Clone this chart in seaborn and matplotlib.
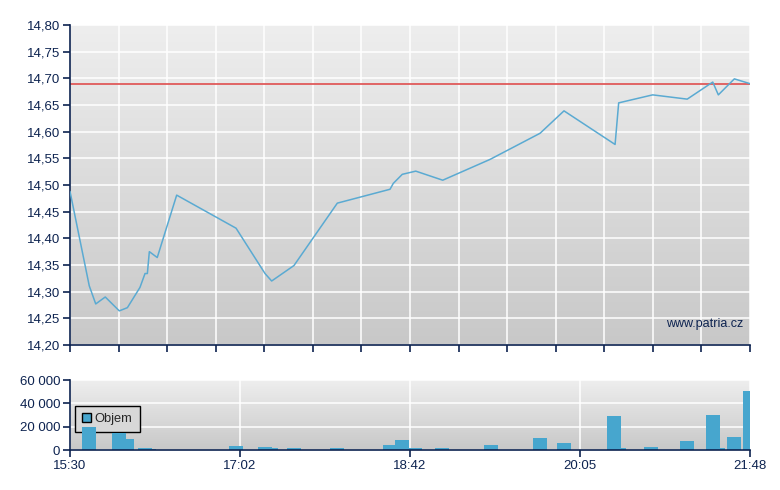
import numpy as np
import pandas as pd
import seaborn as sns
import matplotlib.pyplot as plt
from matplotlib.patches import Patch

# price line: minutes after 15:30 and price
price_t = [0, 10.7, 14.3, 19.6, 27.4, 31.9, 38.9, 41.7, 43.0, 44.1, 48.5, 59.3,
           92.3, 108.4, 112.1, 124.5, 148.6, 177.9, 179.7, 184.7, 192.2, 207.2,
           233.5, 261.3, 274.6, 303.0, 305.0, 323.9, 343.1, 357.3, 360.4, 369.3, 378]
price = [14.488, 14.311, 14.277, 14.290, 14.264, 14.270, 14.308, 14.334, 14.334,
         14.375, 14.364, 14.481, 14.419, 14.334, 14.320, 14.349, 14.466, 14.492,
         14.503, 14.520, 14.526, 14.509, 14.548, 14.597, 14.639, 14.576, 14.654,
         14.669, 14.661, 14.693, 14.669, 14.699, 14.690]
prev_close = 14.69

# volume bars: left edge (minutes), width (minutes), volume
vol_t = [6.7, 23.3, 31.1, 37.8, 45.6, 88.4, 104.5, 112.3, 120.6, 144.5, 174.0,
         180.7, 188.4, 202.9, 230.1, 257.4, 270.7, 298.5, 306.3, 319.1, 339.1,
         353.5, 361.3, 365.2, 374.1]
vol_w = [7.8, 7.8, 4.4, 7.8, 2.2, 7.8, 7.8, 3.3, 7.8, 7.8, 6.7, 7.8, 7.3, 7.8,
         7.8, 7.8, 7.8, 7.8, 2.8, 7.8, 7.8, 7.8, 2.8, 7.8, 3.9]
volume = [20000, 14400, 9500, 1700, 900, 3500, 2600, 1700, 1700, 1700, 4300,
          8700, 1700, 1700, 4300, 10400, 6100, 29400, 1700, 2600, 7800, 30300,
          1700, 11300, 50200]

x_labels = ["15:30", "17:02", "18:42", "20:05", "21:48"]

sns.set_style("white")
plt.rcParams['font.family'] = ['Liberation Sans', 'DejaVu Sans']

navy = "#0d2350"
fig = plt.figure(figsize=(7.8, 4.9), dpi=100)
ax1 = fig.add_axes([70 / 780, 1 - 345 / 490, 680 / 780, 320 / 490])
ax2 = fig.add_axes([70 / 780, 1 - 450 / 490, 680 / 780, 70 / 490])

grad = np.linspace(0, 1, 256).reshape(-1, 1)
for ax in (ax1, ax2):
    ax.imshow(grad, extent=[0, 1, 0, 1], transform=ax.transAxes, aspect='auto',
              cmap=plt.matplotlib.colors.LinearSegmentedColormap.from_list(
                  "bg", ["#eeeeee", "#c8c8c8"]), zorder=0)
    ax.grid(True, color="white", linewidth=1.1)
    ax.set_axisbelow(True)
    for s in ("top", "right"):
        ax.spines[s].set_visible(False)
    for s in ("left", "bottom"):
        ax.spines[s].set_color(navy)
        ax.spines[s].set_linewidth(1.2)
    ax.tick_params(colors=navy, labelcolor=navy, direction="out", length=5,
                   width=1.2, labelsize=9.5, left=True, bottom=True, pad=2)
    ax.set_xlim(0, 378)

# price chart
df = pd.DataFrame({"t": price_t, "price": price})
ax1.axhline(prev_close, color="#e05a5a", linewidth=1.3, zorder=2)
sns.lineplot(data=df, x="t", y="price", ax=ax1, color="#5aaad2", linewidth=1.1,
             zorder=3)
ax1.set_ylim(14.20, 14.80)
yt = np.arange(14.20, 14.801, 0.05)
ax1.set_yticks(yt)
ax1.set_yticklabels([f"{v:.2f}".replace(".", ",") for v in yt])
ax1.set_xticks(np.arange(0, 379, 27))
ax1.set_xticklabels([])
ax1.set_xlabel("")
ax1.set_ylabel("")
ax1.text(0.99, 0.065, "www.patria.cz", transform=ax1.transAxes, ha="right",
         va="center", color=navy, fontsize=9)

# volume chart
ax2.bar(vol_t, volume, width=vol_w, align="edge", color="#47a6ce",
        linewidth=0, edgecolor="none", zorder=2)
ax2.set_ylim(0, 60000)
ax2.set_yticks([0, 20000, 40000, 60000])
ax2.set_yticklabels(["0", "20 000", "40 000", "60 000"])
ax2.set_xticks(np.linspace(0, 378, 5))
ax2.set_xticklabels(x_labels)
handle = Patch(facecolor="#47a6ce", edgecolor="black", linewidth=1)
leg = ax2.legend([handle], ["Objem"], loc="upper left",
                 bbox_to_anchor=(0.007, 0.63), frameon=True, fancybox=False,
                 handlelength=0.7, handleheight=0.7, handletextpad=0.3,
                 borderpad=0.55, fontsize=9.3, borderaxespad=0)
leg.get_frame().set_edgecolor("black")
leg.get_frame().set_facecolor("#d8d8d8")
leg.get_frame().set_alpha(1)
leg.set_zorder(1.5)

fig.savefig("out.png", dpi=100)
